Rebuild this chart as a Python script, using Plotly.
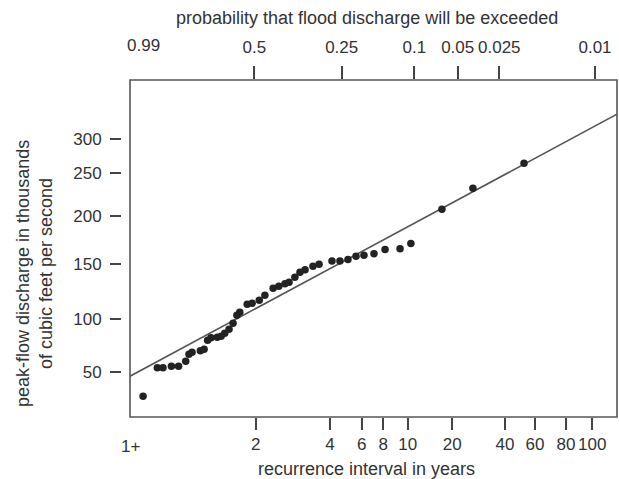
import numpy as np
import plotly.graph_objects as go

# ---------------- data ----------------
# annual peak flows: recurrence interval (years) and discharge (thousand cfs)
recurrence_years = [1.06, 1.10, 1.12, 1.155, 1.19, 1.23, 1.25, 1.27, 1.33, 1.36,
                    1.39, 1.42, 1.48, 1.52, 1.56, 1.61, 1.66, 1.71, 1.75, 1.86,
                    1.94, 2.06, 2.16, 2.32, 2.44, 2.58, 2.68, 2.83, 2.97, 3.12,
                    3.37, 3.58, 4.10, 4.53, 5.02, 5.57, 6.18, 7.06, 8.13, 9.32,
                    10.5, 17.0, 26.2, 51.7]
peak_discharge = [27.2, 53.9, 53.9, 55.3, 55.3, 60.0, 66.6, 68.4, 69.8, 71.3,
                  79.7, 82.0, 82.5, 83.4, 86.2, 90.0, 95.6, 103.0, 105.8, 113.2,
                  114.1, 116.9, 121.5, 127.9, 129.7, 132.0, 133.4, 138.0, 142.6, 144.9,
                  148.2, 150.0, 153.4, 153.4, 154.9, 158.3, 159.4, 161.1, 165.3, 166.1,
                  171.6, 208.1, 232.6, 264.7]

# fitted frequency line (end points)
line_years = [1.035, 125]
line_discharge = [46, 337]

# tick labels
bottom_tick_years = [2, 4, 6, 8, 10, 20, 40, 60, 80, 100]
top_tick_prob = [0.5, 0.25, 0.1, 0.05, 0.025, 0.01]
top_tick_text = ["0.5", "0.25", "0.1", "0.05", "0.025", "0.01"]
y_tick_vals = [50, 100, 150, 200, 250, 300]

# ---------------- the (hand-drawn) probability paper scales ----------------
def gumbel(T):
    T = np.asarray(T, dtype=float)
    return -np.log(-np.log(1.0 - 1.0 / T))

# recurrence-interval scale of the chart paper (Gumbel variate, as drawn)
X_SCALE_T = [1.035, 2, 4, 6, 8, 10, 20, 40, 60, 80, 100, 125]
X_SCALE_U = [0, 125.7, 200, 231.7, 253.3, 277.7, 322.3, 375, 405, 436, 462.3, 487]
# exceedance-probability scale printed along the top
TOP_SCALE_P = [0.99, 0.5, 0.25, 0.1, 0.05, 0.025, 0.01]
TOP_SCALE_U = [13.3, 124.3, 211.7, 284.3, 327.7, 369.3, 465]
# discharge scale (as drawn)
Y_SCALE_Q = [0, 50, 100, 150, 200, 250, 300, 400]
Y_SCALE_V = [-8.4, 45, 98.4, 152.7, 200.7, 243.7, 277.7, 345.7]

def xs(T):
    return np.interp(gumbel(T), gumbel(X_SCALE_T), X_SCALE_U)

def xs_top(p):
    p = np.asarray(p, dtype=float)
    return np.interp(gumbel(1 / p), gumbel(1 / np.asarray(TOP_SCALE_P)), TOP_SCALE_U)

def ys(Q):
    return np.interp(np.asarray(Q, dtype=float), Y_SCALE_Q, Y_SCALE_V)

X_RANGE = [float(xs(X_SCALE_T[0])), float(xs(X_SCALE_T[-1]))]
Y_RANGE = [0, 337]

# ---------------- figure ----------------
INK = "#333333"
LINE = "#555555"
FONT = dict(family="Liberation Sans, Arial, sans-serif", size=18, color=INK)
TICKFONT = dict(family="Liberation Sans, Arial, sans-serif", size=17, color=INK)

fig = go.Figure()
fig.add_trace(go.Scatter(x=xs(line_years), y=ys(line_discharge), mode="lines",
                         line=dict(color=LINE, width=1.6), hoverinfo="skip",
                         showlegend=False))
fig.add_trace(go.Scatter(x=xs(recurrence_years), y=ys(peak_discharge), mode="markers",
                         marker=dict(color="#222222", size=7.5), showlegend=False,
                         customdata=np.c_[recurrence_years, peak_discharge],
                         hovertemplate="T=%{customdata[0]} yr<br>Q=%{customdata[1]}k cfs<extra></extra>"))
# invisible trace to activate the top axis
fig.add_trace(go.Scatter(x=X_RANGE, y=[None, None], xaxis="x2", yaxis="y",
                         mode="markers", showlegend=False, hoverinfo="skip"))

W, H = 619, 479
ML, MR, MT, MB = 121, 2, 80, 62
plot_w = W - ML - MR
plot_h = H - MT - MB
dom0 = 9 / plot_w

def px_to_paper_x(px):
    return (px - ML) / plot_w

def px_to_paper_y(py):
    return (H - MB - py) / plot_h

common = dict(showgrid=False, zeroline=False, showline=False, ticks="outside",
              tickwidth=1.5, tickcolor="#444444", tickfont=TICKFONT, tickangle=0,
              automargin=False)

fig.update_layout(
    width=W, height=H,
    margin=dict(l=ML, r=MR, t=MT, b=MB, autoexpand=False),
    paper_bgcolor="white", plot_bgcolor="white",
    font=FONT,
    showlegend=False,
    xaxis=dict(domain=[dom0, 1], range=X_RANGE, ticklen=12,
               tickvals=xs(bottom_tick_years),
               ticktext=[str(t) for t in bottom_tick_years], **common),
    xaxis2=dict(overlaying="x", side="top", anchor="y", range=X_RANGE,
                ticklen=13, tickvals=xs_top(top_tick_prob), ticktext=top_tick_text,
                ticklabelstandoff=6, **common),
    yaxis=dict(anchor="free", position=0, range=Y_RANGE, ticklen=11,
               tickvals=ys(y_tick_vals), ticktext=[str(v) for v in y_tick_vals],
               ticklabelstandoff=5, **common),
    shapes=[dict(type="rect", xref="x domain", yref="y domain", x0=0, x1=1,
                 y0=0, y1=1, line=dict(color=LINE, width=1.6))],
    annotations=[
        dict(text="1+", x=float(xs(X_SCALE_T[0])), xref="x", y=px_to_paper_y(446.7),
             yref="paper", showarrow=False, font=TICKFONT, xanchor="center",
             yanchor="middle"),
        dict(text="0.99", x=float(xs_top(0.99)), xref="x2", y=px_to_paper_y(45),
             yref="paper", showarrow=False, font=TICKFONT, xanchor="center",
             yanchor="middle"),
        dict(text="probability that flood discharge will be exceeded",
             x=px_to_paper_x(366.7), y=px_to_paper_y(18), xref="paper", yref="paper",
             showarrow=False, font=FONT, xanchor="center", yanchor="middle"),
        dict(text="recurrence interval in years",
             x=px_to_paper_x(366.7), y=px_to_paper_y(469), xref="paper", yref="paper",
             showarrow=False, font=FONT, xanchor="center", yanchor="middle"),
        dict(text="peak-flow discharge in thousands<br>of cubic feet per second",
             x=px_to_paper_x(34), y=px_to_paper_y(274), xref="paper", yref="paper",
             showarrow=False, font=FONT, textangle=-90, xanchor="center",
             yanchor="middle"),
    ],
)

fig.write_html("out.html",
               config={"displayModeBar": False},
               post_script="document.body.style.margin='0';"
                           "document.body.style.overflow='hidden';")
